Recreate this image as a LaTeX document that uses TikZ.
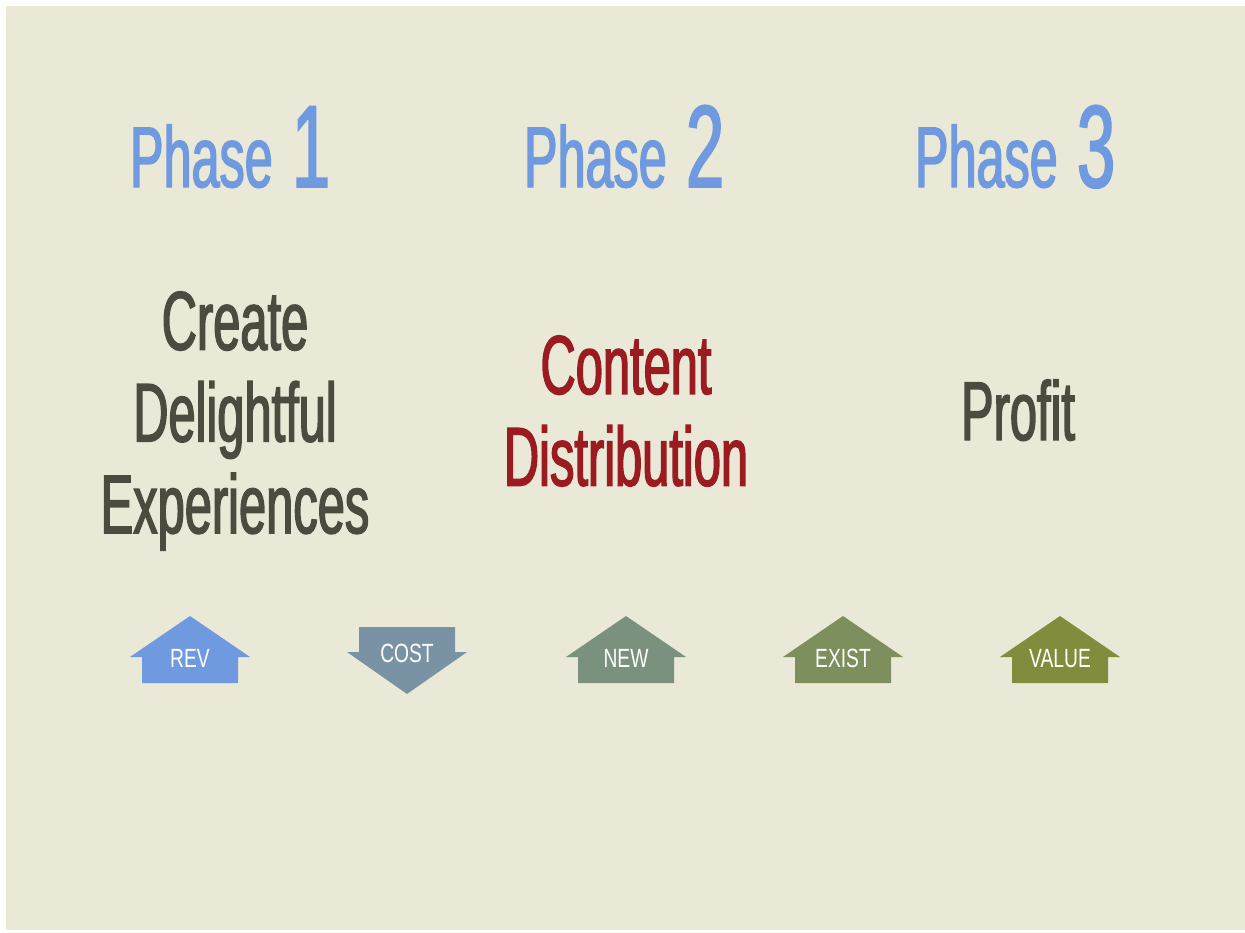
\documentclass[tikz,border=0pt]{standalone}
\usepackage{fontspec}
\newfontfamily\condfont[FakeStretch=0.585,FakeBold=1.7]{Liberation Sans}
\newfontfamily\tagfont[FakeStretch=0.73]{Liberation Sans}
\definecolor{paper}{RGB}{234,233,216}
\definecolor{phaseblue}{RGB}{112,154,223}
\definecolor{inkgray}{RGB}{77,75,63}
\definecolor{inkred}{RGB}{155,28,32}
\definecolor{revblue}{RGB}{112,154,223}
\definecolor{costslate}{RGB}{122,147,164}
\definecolor{newsage}{RGB}{122,145,125}
\definecolor{existmoss}{RGB}{126,143,94}
\definecolor{valueolive}{RGB}{129,141,60}
\begin{document}
\begin{tikzpicture}[
        x=0.02cm, y=-0.02cm,
        line join=miter,
        phase/.style={anchor=base, text=phaseblue, inner sep=0pt},
        step title/.style={align=center, inner sep=0pt,
            font=\condfont\fontsize{47.5}{52.2}\selectfont},
        tag/.style={anchor=base, text=white, inner sep=0pt,
            font=\tagfont\fontsize{15}{18}\selectfont}
    ]
        % Page and background
        \useasboundingbox (0,0) rectangle (1245,933);
        \fill[paper] (6,6) rectangle (1245,930);
        % Phase headings
        \node[phase] (ph1) at (230,187) {\condfont\fontsize{49}{55}\selectfont Phase\hspace{11pt}\fontsize{66.5}{70}\selectfont 1};
        \node[phase] (ph2) at (624,187) {\condfont\fontsize{49}{55}\selectfont Phase\hspace{11pt}\fontsize{66.5}{70}\selectfont 2};
        \node[phase] (ph3) at (1015,187) {\condfont\fontsize{49}{55}\selectfont Phase\hspace{11pt}\fontsize{66.5}{70}\selectfont 3};
        % Phase contents
        \node[step title, text=inkgray] (create) at (235,421) {Create\\Delightful\\Experiences};
        \node[step title, text=inkred] (distrib) at (626,411) {Content\\Distribution};
        \node[step title, text=inkgray, anchor=base] (profit) at (1018,440) {Profit};
        % Up arrows
        \foreach \cx/\col/\lbl/\nm in {190/revblue/REV/rev, 626/newsage/NEW/new,
                843/existmoss/EXIST/exist, 1060/valueolive/VALUE/value}{
            \fill[\col] (\cx,616) -- (\cx+60,657) -- (\cx+48,657) -- (\cx+48,683)
                -- (\cx-48,683) -- (\cx-48,657) -- (\cx-60,657) -- cycle;
            \node[tag] (\nm) at (\cx,667) {\lbl};
        }
        % Down arrow
        \fill[costslate] (359,627) -- (455,627) -- (455,652) -- (467,652)
            -- (407,694) -- (347,652) -- (359,652) -- cycle;
        \node[tag] (cost) at (407,662) {COST};
    \end{tikzpicture}
\end{document}
